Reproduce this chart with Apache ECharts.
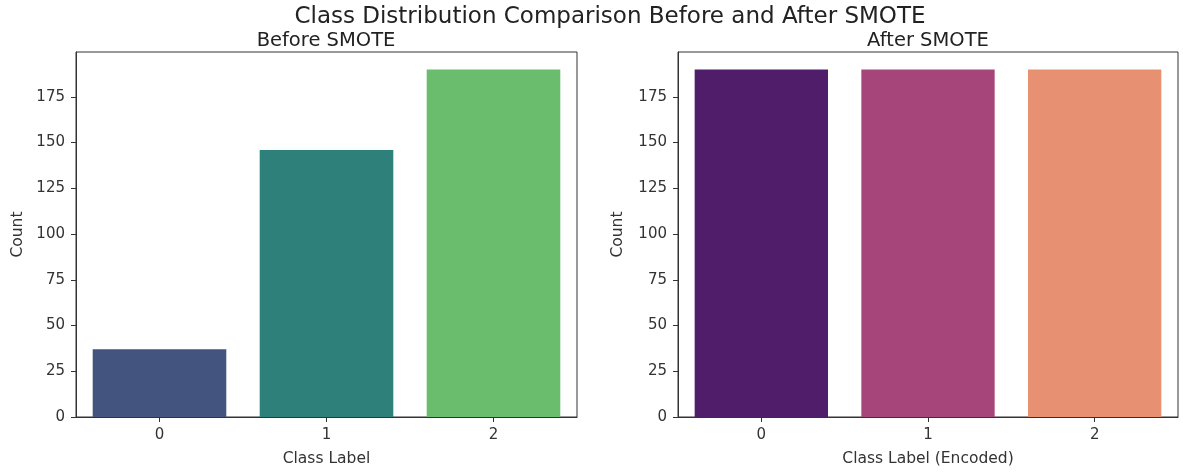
<!DOCTYPE html>
<html>
<head>
<meta charset="utf-8">
<script src="https://cdn.jsdelivr.net/npm/echarts@6/dist/echarts.min.js"></script>
<style>
html,body{margin:0;padding:0;background:#fff;}
#main{width:1183px;height:472px;}
</style>
</head>
<body>
<div id="main"></div>
<script>
var categories = ['0', '1', '2'];
var beforeCounts = [37, 146, 190];
var afterCounts = [190, 190, 190];
var yTicks = [0, 25, 50, 75, 100, 125, 150, 175];
var beforeColors = ['#43547f', '#2e817b', '#6bbd6e'];
var afterColors = ['#501d6b', '#a6457a', '#e89172'];

var FONT = 'DejaVu Sans';
var chart = echarts.init(document.getElementById('main'));

function xAxisCfg(idx, name) {
  return {
    type: 'category', gridIndex: idx, data: categories,
    name: name, nameLocation: 'middle', nameGap: 34,
    nameTextStyle: {fontFamily: FONT, fontSize: 15.5, color: '#333'},
    axisLine: {show: true, lineStyle: {color: '#333', width: 1}},
    axisTick: {show: true, alignWithLabel: true, length: 5, lineStyle: {color: '#333'}},
    axisLabel: {fontFamily: FONT, fontSize: 15, color: '#333', margin: 11},
    splitLine: {show: false}
  };
}
function yAxisCfg(idx, gap) {
  return {
    type: 'value', gridIndex: idx, min: 0, max: 199.5,
    name: 'Count', nameLocation: 'middle', nameGap: gap, nameRotate: 90,
    nameTextStyle: {fontFamily: FONT, fontSize: 15.5, color: '#333'},
    axisLine: {show: true, lineStyle: {color: '#333', width: 1}},
    axisTick: {show: true, length: 5, customValues: yTicks, lineStyle: {color: '#333'}},
    axisLabel: {fontFamily: FONT, fontSize: 15, color: '#333', margin: 11, customValues: yTicks},
    splitLine: {show: false}
  };
}

chart.setOption({
  backgroundColor: '#fff',
  animation: false,
  title: [
    {text: 'Class Distribution Comparison Before and After SMOTE', left: 605, top: 1, textAlign: 'center',
     textStyle: {fontFamily: FONT, fontSize: 23, fontWeight: 'normal', color: '#222'}},
    {text: 'Before SMOTE', left: 321, top: 26, textAlign: 'center',
     textStyle: {fontFamily: FONT, fontSize: 19.5, fontWeight: 'normal', color: '#222'}},
    {text: 'After SMOTE', left: 923, top: 26, textAlign: 'center',
     textStyle: {fontFamily: FONT, fontSize: 19.5, fontWeight: 'normal', color: '#222'}}
  ],
  grid: [
    {left: 76, right: 606, top: 52, bottom: 55, show: true, borderColor: '#333', borderWidth: 1, containLabel: false},
    {left: 678, right: 5, top: 52, bottom: 55, show: true, borderColor: '#333', borderWidth: 1, containLabel: false}
  ],
  xAxis: [xAxisCfg(0, 'Class Label'), xAxisCfg(1, 'Class Label (Encoded)')],
  yAxis: [yAxisCfg(0, 50), yAxisCfg(1, 52)],
  series: [
    {type: 'bar', xAxisIndex: 0, yAxisIndex: 0, barCategoryGap: '20%',
     data: beforeCounts.map(function (v, i) { return {value: v, itemStyle: {color: beforeColors[i]}}; })},
    {type: 'bar', xAxisIndex: 1, yAxisIndex: 1, barCategoryGap: '20%',
     data: afterCounts.map(function (v, i) { return {value: v, itemStyle: {color: afterColors[i]}}; })}
  ]
});
</script>
</body>
</html>
